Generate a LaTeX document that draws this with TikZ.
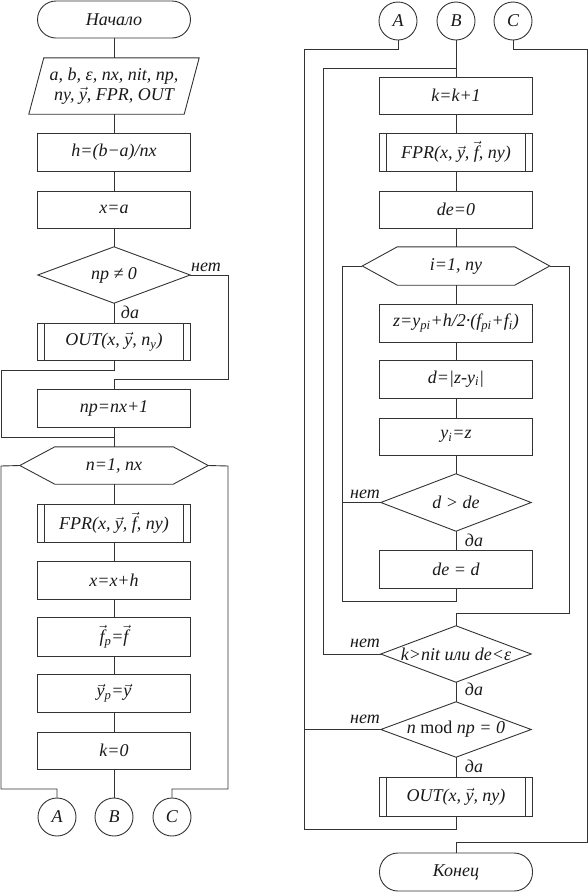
\documentclass[tikz,border=0pt]{standalone}
\usepackage{amsmath}
\usepackage{fontspec}
\setmainfont{Liberation Serif}
\newcommand{\myvec}[1]{$\vec{\textit{#1}}$}
\newcommand{\msub}[2]{\textit{#1}$_{\textit{#2}}$}
\tikzset{
  base/.style={font=\fontsize{18}{20}\selectfont\itshape, inner sep=0pt, text=black!90, align=center},
  ln/.style={draw=black!80, line width=0.9pt},
  box/.style={base, ln, minimum width=153pt, minimum height=38pt},
  subbox/.style={box, path picture={
      \draw[ln] ([xshift=7pt]path picture bounding box.north west) -- ([xshift=7pt]path picture bounding box.south west)
                ([xshift=-7pt]path picture bounding box.north east) -- ([xshift=-7pt]path picture bounding box.south east);}},
  term/.style={box, rounded corners=18.5pt},
  plain/.style={base},
  conn/.style={base, ln, circle, minimum size=38pt},
  lbl/.style={base, anchor=base}
}
\newcommand{\drawdiamond}[1]{\draw[ln] (#1.west) -- (#1.north) -- (#1.east) -- (#1.south) -- cycle;}
\newcommand{\drawhex}[1]{\draw[ln] (#1.west) -- ([xshift=35pt]#1.north west) -- ([xshift=-35pt]#1.north east) -- (#1.east) -- ([xshift=-35pt]#1.south east) -- ([xshift=35pt]#1.south west) -- cycle;}
\begin{document}
\begin{tikzpicture}[x=1pt,y=-1pt]
\useasboundingbox (0,0) rectangle (588,892);
% ---------- left column ----------
\node[term, minimum height=37pt] (start) at (114,19.5) {Начало};
\node[plain, minimum width=170pt, minimum height=56pt] (inp) at (114,86) {a, b, ε, nx, nit, np,\\ ny, \myvec{y}, FPR, OUT};
\draw[ln] ([xshift=15pt]inp.north west) -- (inp.north east) -- ([xshift=-15pt]inp.south east) -- (inp.south west) -- cycle;
\node[box] (h) at (114,152) {h=(b−a)/nx};
\node[box, minimum height=37pt] (xa) at (114,209.5) {x=a};
\node[plain, minimum width=152pt, minimum height=56pt] (d1) at (114,275) {np ≠ 0};
\drawdiamond{d1}
\node[subbox, minimum height=37pt] (out1) at (114,341.5) {OUT(x, \myvec{y}, \msub{n}{y})};
\node[box] (np) at (114,408) {np=nx+1};
\node[plain, minimum width=188pt, minimum height=37pt] (hx1) at (114,465.5) {n=1, nx};
\drawhex{hx1}
\node[subbox] (fpr1) at (114,523) {FPR(x, \myvec{y}, \myvec{f}, ny)};
\node[box] (xh) at (114,580) {x=x+h};
\node[box, minimum height=39pt] (fp) at (114,636.5) {\myvec{f}$_{\textit{p}}$=\myvec{f}};
\node[box] (yp) at (114,693) {\myvec{y}$_{\textit{p}}$=\myvec{y}};
\node[box, minimum height=37pt] (k0) at (114,750.5) {k=0};
\node[conn] (cA1) at (57,817) {A};
\node[conn] (cB1) at (114,817) {B};
\node[conn] (cC1) at (172,817) {C};
\node[lbl] (l1) at (206,271) {нет};
\node[lbl] (l2) at (130,318) {да};
\coordinate (j1) at (114,437);
\draw[ln] (start) -- (inp) (inp) -- (h) (h) -- (xa) (xa) -- (d1.north) (d1.south) -- (out1);
\draw[ln] (d1.east) -- (228,275) -- (228,379) -- (114,379) -- (np.north);
\draw[ln] (out1.south) -- (114,370) -- (1,370) -- (1,437) -- (j1);
\draw[ln] (np.south) -- (hx1.north);
\draw[ln] (hx1.west) -- (1,466) -- (1,789) -- (57,789) -- (cA1.north);
\draw[ln] (hx1.east) -- (228,466) -- (228,789) -- (172,789) -- (cC1.north);
\draw[ln] (hx1.south) -- (fpr1) (fpr1) -- (xh) (xh) -- (fp) (fp) -- (yp) (yp) -- (k0) (k0) -- (cB1);
% ---------- right column ----------
\node[conn] (cA2) at (398,21) {A};
\node[conn] (cB2) at (456,21) {B};
\node[conn] (cC2) at (513,21) {C};
\node[box, minimum height=37pt] (kk) at (456,95.5) {k=k+1};
\node[subbox] (fpr2) at (456,152) {FPR(x, \myvec{y}, \myvec{f}, ny)};
\node[box, minimum height=37pt] (de0) at (456,209.5) {de=0};
\node[plain, minimum width=187pt, minimum height=38pt] (hx2) at (456,266) {i=1, ny};
\drawhex{hx2}
\node[box] (z) at (456,323) {z=\msub{y}{pi}+h/2·(\msub{f}{pi}+\msub{f}{i})};
\node[box] (dd) at (456,379) {d=|z-\msub{y}{i}|};
\node[box, minimum height=37pt] (yi) at (456,436.5) {\msub{y}{i}=z};
\node[plain, minimum width=150pt, minimum height=57pt] (d2) at (456,502.5) {d > de};
\drawdiamond{d2}
\node[box] (ded) at (456,569) {de = d};
\node[plain, minimum width=150pt, minimum height=56pt] (d3) at (456,654) {k>nit или de<ε};
\drawdiamond{d3}
\node[plain, minimum width=150pt, minimum height=55pt] (d4) at (456,729.5) {n \textup{mod} np = 0};
\drawdiamond{d4}
\node[subbox, minimum height=39pt] (out2) at (456,796.5) {OUT(x, \myvec{y}, ny)};
\node[term] (stop) at (456,872) {Конец};
\node[lbl] (l3) at (365,498) {нет};
\node[lbl] (l4) at (474,546) {да};
\node[lbl] (l5) at (365,647) {нет};
\node[lbl] (l6) at (474,695) {да};
\node[lbl] (l7) at (365,723) {нет};
\node[lbl] (l8) at (474,772) {да};
\coordinate (j2) at (456,68);
\draw[ln] (cA2.south) -- (398,49) -- (304,49) -- (304,829) -- (456,829) -- (out2.south);
\draw[ln] (cB2.south) -- (kk.north);
\draw[ln] (cC2.south) -- (513,49) -- (587,49) -- (587,842) -- (456,842) -- (stop.north);
\draw[ln] (kk) -- (fpr2) (fpr2) -- (de0) (de0) -- (hx2.north);
\draw[ln] (hx2.south) -- (z) (z) -- (dd) (dd) -- (yi) (yi) -- (d2.north);
\draw[ln] (d2.west) -- (342,502.5);
\draw[ln] (d2.south) -- (ded.north);
\draw[ln] (ded.south) -- (456,601) -- (342,601) -- (342,266) -- (hx2.west);
\draw[ln] (hx2.east) -- (569,266) -- (569,613) -- (456,613) -- (d3.north);
\draw[ln] (d3.west) -- (323,654) -- (323,68) -- (j2);
\draw[ln] (d3.south) -- (d4.north);
\draw[ln] (d4.west) -- (304,729.5);
\draw[ln] (d4.south) -- (out2.north);
\end{tikzpicture}
\end{document}
